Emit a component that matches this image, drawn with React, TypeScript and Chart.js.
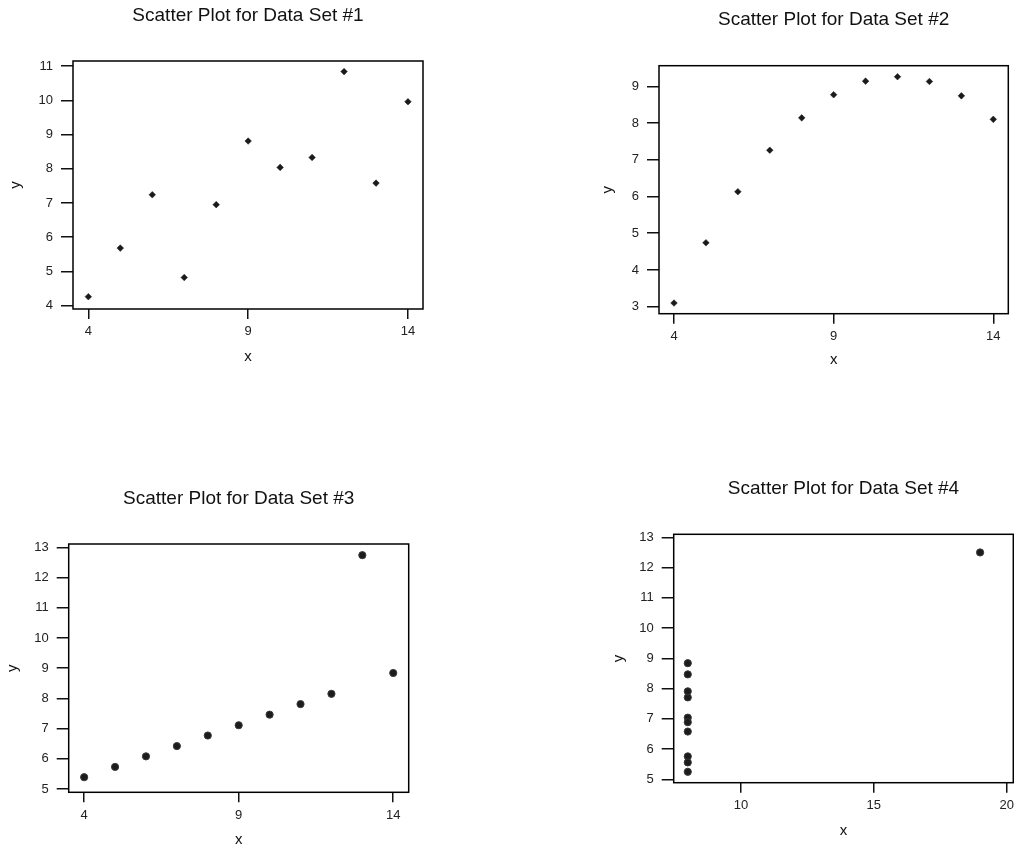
import React, { useEffect, useRef } from "react";
import { Chart, registerables } from "chart.js";

Chart.register(...registerables);

// ---- Data (Anscombe's quartet) ----
const X_SETS_123 = [10, 8, 13, 9, 11, 14, 6, 4, 12, 7, 5];
const Y_SET_1 = [8.04, 6.95, 7.58, 8.81, 8.33, 9.96, 7.24, 4.26, 10.84, 4.82, 5.68];
const Y_SET_2 = [9.14, 8.14, 8.74, 8.77, 9.26, 8.1, 6.13, 3.1, 9.13, 7.26, 4.74];
const Y_SET_3 = [7.46, 6.77, 12.74, 7.11, 7.81, 8.84, 6.08, 5.39, 8.15, 6.42, 5.73];
const X_SET_4 = [8, 8, 8, 8, 8, 8, 8, 19, 8, 8, 8];
const Y_SET_4 = [6.58, 5.76, 7.71, 8.84, 8.47, 7.04, 5.25, 12.5, 5.56, 7.91, 6.89];

const TITLES = [
  "Scatter Plot for Data Set #1",
  "Scatter Plot for Data Set #2",
  "Scatter Plot for Data Set #3",
  "Scatter Plot for Data Set #4",
];

const X_TICKS_123 = [4, 9, 14];
const X_TICKS_4 = [10, 15, 20];
const Y_TICKS_1 = [4, 5, 6, 7, 8, 9, 10, 11];
const Y_TICKS_2 = [3, 4, 5, 6, 7, 8, 9];
const Y_TICKS_34 = [5, 6, 7, 8, 9, 10, 11, 12, 13];

const FONT = "'Liberation Sans', Arial, Helvetica, sans-serif";

type Panel = {
  title: string;
  xs: number[];
  ys: number[];
  xTicks: number[];
  yTicks: number[];
  xMin: number; xMax: number; yMin: number; yMax: number;
  marker: "rectRot" | "circle";
  // layout
  left: number; top: number; w: number; h: number;
  yW: number; xH: number; padR: number;
  titleCenter: number; yTitleX: number; xTitleY: number;
};

const PANELS: Panel[] = [
  {
    title: TITLES[0], xs: X_SETS_123, ys: Y_SET_1, xTicks: X_TICKS_123, yTicks: Y_TICKS_1,
    xMin: 3.52, xMax: 14.47, yMin: 3.9, yMax: 11.15, marker: "rectRot",
    left: 0, top: 0, w: 480, h: 380, yW: 73, xH: 71, padR: 57,
    titleCenter: 15.5, yTitleX: 16, xTitleY: 357,
  },
  {
    title: TITLES[1], xs: X_SETS_123, ys: Y_SET_2, xTicks: X_TICKS_123, yTicks: Y_TICKS_2,
    xMin: 3.53, xMax: 14.47, yMin: 2.81, yMax: 9.56, marker: "rectRot",
    left: 560, top: 0, w: 454, h: 380, yW: 99, xH: 66.3, padR: 5.7,
    titleCenter: 19.5, yTitleX: 48, xTitleY: 360,
  },
  {
    title: TITLES[2], xs: X_SETS_123, ys: Y_SET_3, xTicks: X_TICKS_123, yTicks: Y_TICKS_34,
    xMin: 3.5, xMax: 14.5, yMin: 4.89, yMax: 13.11, marker: "circle",
    left: 0, top: 470, w: 480, h: 381, yW: 68.7, xH: 58.7, padR: 71.3,
    titleCenter: 29, yTitleX: 13, xTitleY: 370,
  },
  {
    title: TITLES[3], xs: X_SET_4, ys: Y_SET_4, xTicks: X_TICKS_4, yTicks: Y_TICKS_34,
    xMin: 7.47, xMax: 20.25, yMin: 4.89, yMax: 13.1, marker: "circle",
    left: 560, top: 470, w: 460, h: 381, yW: 113.7, xH: 68.3, padR: 6.7,
    titleCenter: 19, yTitleX: 59, xTitleY: 360.7,
  },
];

const framePlugin = {
  id: "frameBox",
  afterDraw(chart: any) {
    const { ctx, chartArea: a } = chart;
    ctx.save();
    ctx.strokeStyle = "#000";
    ctx.lineWidth = 1.5;
    ctx.strokeRect(a.left, a.top, a.right - a.left, a.bottom - a.top);
    ctx.restore();
  },
};

function ScatterPanel({ p }: { p: Panel }) {
  const ref = useRef<HTMLCanvasElement | null>(null);
  useEffect(() => {
    if (!ref.current) return;
    const TITLE_SIZE = 19;
    const TITLE_LH = TITLE_SIZE * 1.2;
    const AX_SIZE = 15;
    const AX_LH = AX_SIZE * 1.2;
    const chartTop = p.h - (p.h - 0); // placeholder not used
    void chartTop;
    const plotTop = (() => {
      // derived from panel layout: title block height
      return 0;
    })();
    void plotTop;
    const titlePadTop = p.titleCenter - TITLE_LH / 2;
    const boxTop: number = ({ 0: 61, 560: 65.7 } as any)[p.left] ?? 0;
    void boxTop;
    const plotTopLocal = [61, 65.7, 74, 64.3][PANELS.indexOf(p)];
    const titlePadBottom = plotTopLocal - titlePadTop - TITLE_LH;
    const xTitlePadBottom = p.h - p.xTitleY - AX_LH / 2;
    const yTitlePadTop = p.yTitleX - AX_LH / 2;

    const isCircle = p.marker === "circle";
    const data = p.xs.map((x, i) => ({ x, y: p.ys[i] }));

    const chart = new Chart(ref.current, {
      type: "scatter",
      data: {
        datasets: [
          {
            data,
            pointStyle: p.marker,
            pointRadius: isCircle ? 3.6 : 3.3,
            pointHoverRadius: isCircle ? 3.6 : 3.3,
            backgroundColor: isCircle ? "#1c1c1c" : "#1a1a1a",
            borderColor: isCircle ? "#3a3a3a" : "#1a1a1a",
            borderWidth: isCircle ? 1 : 0.5,
          },
        ],
      },
      options: {
        animation: false,
        responsive: false,
        devicePixelRatio: 1,
        events: [],
        layout: {
          padding: { left: 0, top: 0, right: p.padR, bottom: 0 },
          autoPadding: false,
        } as any,
        plugins: {
          legend: { display: false },
          tooltip: { enabled: false },
          title: {
            display: true,
            text: p.title,
            fullSize: false,
            color: "#111",
            font: { family: FONT, size: TITLE_SIZE, weight: "normal" as any, lineHeight: 1.2 },
            padding: { top: titlePadTop, bottom: titlePadBottom },
          },
        },
        scales: {
          x: {
            type: "linear",
            min: p.xMin,
            max: p.xMax,
            afterBuildTicks: (s: any) => {
              s.ticks = p.xTicks.map((v) => ({ value: v }));
            },
            afterFit: (s: any) => {
              s.height = p.xH;
              s.paddingLeft = 0;
              s.paddingRight = 0;
            },
            border: { display: false },
            grid: {
              drawOnChartArea: false,
              drawTicks: true,
              tickLength: 10,
              color: "#111",
              lineWidth: 1.5,
            },
            ticks: {
              padding: 5,
              color: "#222",
              autoSkip: false,
              maxRotation: 0,
              font: { family: FONT, size: 13 },
            },
            title: {
              display: true,
              text: "x",
              color: "#111",
              font: { family: FONT, size: AX_SIZE, lineHeight: 1.2 },
              padding: { top: 0, bottom: xTitlePadBottom },
            },
          },
          y: {
            type: "linear",
            min: p.yMin,
            max: p.yMax,
            afterBuildTicks: (s: any) => {
              s.ticks = p.yTicks.map((v) => ({ value: v }));
            },
            afterFit: (s: any) => {
              s.width = p.yW;
              s.paddingTop = 0;
              s.paddingBottom = 0;
            },
            border: { display: false },
            grid: {
              drawOnChartArea: false,
              drawTicks: true,
              tickLength: 12,
              color: "#111",
              lineWidth: 1.5,
            },
            ticks: {
              padding: 8,
              color: "#222",
              autoSkip: false,
              font: { family: FONT, size: 13 },
            },
            title: {
              display: true,
              text: "y",
              color: "#111",
              font: { family: FONT, size: AX_SIZE, lineHeight: 1.2 },
              padding: { top: yTitlePadTop, bottom: 0 },
            },
          },
        },
      },
      plugins: [framePlugin],
    });
    return () => chart.destroy();
  }, [p]);

  return (
    <canvas
      ref={ref}
      width={p.w}
      height={p.h}
      style={{ position: "absolute", left: p.left, top: p.top, width: p.w, height: p.h, display: "block" }}
    />
  );
}

export default function App() {
  return (
    <div
      style={{
        position: "absolute",
        left: 0,
        top: 0,
        width: 1014,
        height: 851,
        overflow: "hidden",
        background: "#fff",
      }}
    >
      {PANELS.map((p, i) => (
        <ScatterPanel key={i} p={p} />
      ))}
    </div>
  );
}
